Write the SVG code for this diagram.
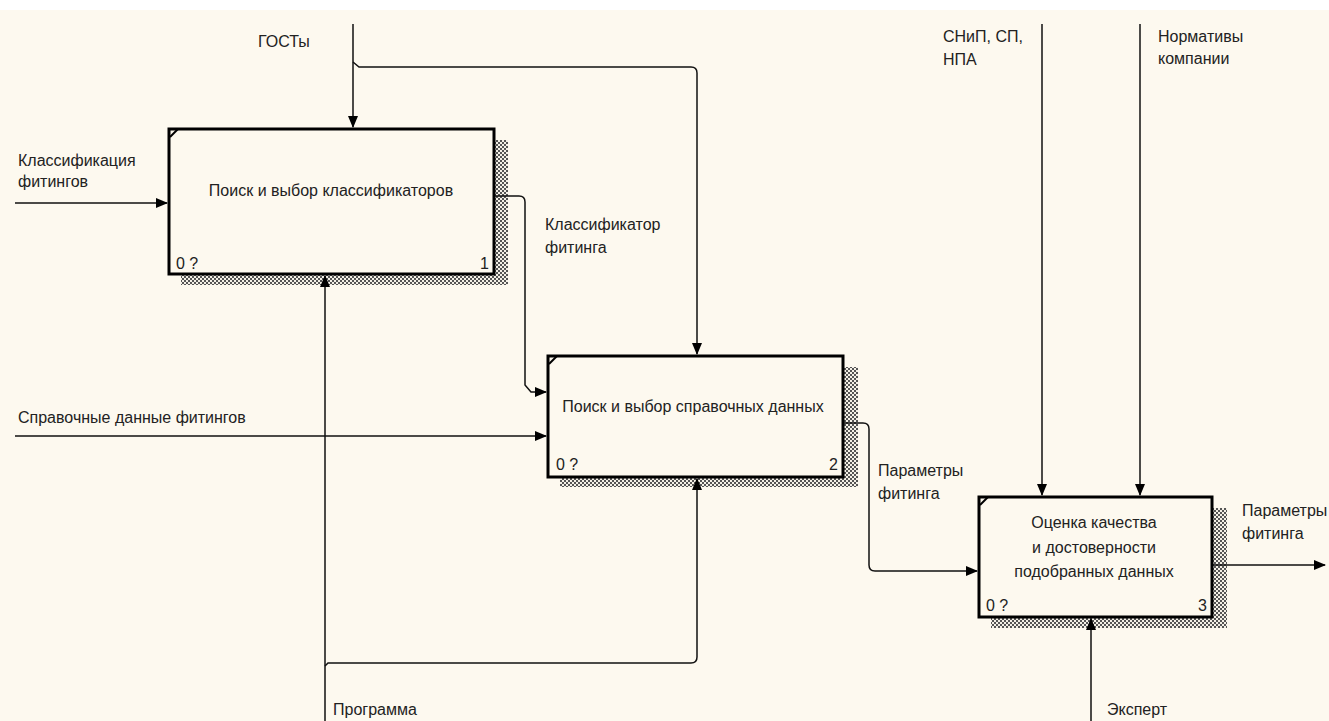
<svg xmlns="http://www.w3.org/2000/svg" width="1329" height="721" viewBox="0 0 1329 721">
<defs>
<pattern id="hatch" width="4" height="4" patternUnits="userSpaceOnUse">
<rect width="4" height="4" fill="#f4f0e6"/>
<rect x="0" y="0" width="2" height="2" fill="#555"/>
<rect x="2" y="2" width="2" height="2" fill="#555"/>
</pattern>
<marker id="arr" viewBox="0 0 12 10" refX="11" refY="5" markerWidth="12" markerHeight="10" markerUnits="userSpaceOnUse" orient="auto">
<path d="M0,0 L12,5 L0,10 Z" fill="#000"/>
</marker>
<style>
.box{fill:#fdf9ef;stroke:#000;stroke-width:3}
.shadow{fill:url(#hatch)}
.notch{stroke:#000;stroke-width:2;fill:none}
.t{font-family:"Liberation Sans",Arial,sans-serif;font-size:16px;fill:#222}
.c{text-anchor:middle}
.e{text-anchor:end}
.ln{fill:none;stroke:#111;stroke-width:1.5}
</style>
</defs>
<rect x="0" y="0" width="1329" height="721" fill="#fdf9ef"/>
<rect x="0" y="0" width="1329" height="10" fill="#ffffff"/>

<g id="node1">
<rect class="shadow" x="181" y="140" width="327" height="145"/>
<rect class="box" x="169" y="129" width="325" height="145"/>
<path class="notch" d="M170,137 L178,129"/>
<text class="t c" x="331" y="196">Поиск и выбор классификаторов</text>
<text class="t" x="176" y="269">0 ?</text>
<text class="t e" x="489" y="269">1</text>
</g>

<g id="node2">
<rect class="shadow" x="560" y="367" width="298" height="120"/>
<rect class="box" x="548" y="356" width="295" height="121"/>
<path class="notch" d="M549,364 L557,356"/>
<text class="t c" x="693" y="412">Поиск и выбор справочных данных</text>
<text class="t" x="556" y="470">0 ?</text>
<text class="t e" x="838" y="470">2</text>
</g>

<g id="node3">
<rect class="shadow" x="991" y="508" width="236" height="120"/>
<rect class="box" x="979" y="497" width="233" height="120"/>
<path class="notch" d="M980,505 L988,497"/>
<text class="t c" x="1094" y="528">Оценка качества</text>
<text class="t c" x="1094" y="553">и достоверности</text>
<text class="t c" x="1094" y="577">подобранных данных</text>
<text class="t" x="986" y="611">0 ?</text>
<text class="t e" x="1207" y="611">3</text>
</g>

<g id="connectors">
<path class="ln" d="M353,24 V127" marker-end="url(#arr)"/>
<path class="ln" d="M353,62 L359,67 H691 Q697,67 697,73 V354" marker-end="url(#arr)"/>
<path class="ln" d="M15,203 H167" marker-end="url(#arr)"/>
<path class="ln" d="M495,196 H519 Q525,196 525,202 V385 L531,392 H546" marker-end="url(#arr)"/>
<path class="ln" d="M15,436 H546" marker-end="url(#arr)"/>
<path class="ln" d="M844,423 H863 Q869,423 869,429 V565 Q869,571 875,571 H977" marker-end="url(#arr)"/>
<path class="ln" d="M1042,24 V495" marker-end="url(#arr)"/>
<path class="ln" d="M1140,24 V495" marker-end="url(#arr)"/>
<path class="ln" d="M1213,565 H1325" marker-end="url(#arr)"/>
<path class="ln" d="M325,721 V276" marker-end="url(#arr)"/>
<path class="ln" d="M325,666 L328,663 H691 Q697,663 697,657 V479" marker-end="url(#arr)"/>
<path class="ln" d="M1091,721 V619" marker-end="url(#arr)"/>
<text class="t" x="258" y="47">ГОСТы</text>
<text class="t" x="18" y="166">Классификация</text>
<text class="t" x="18" y="187">фитингов</text>
<text class="t" x="545" y="230">Классификатор</text>
<text class="t" x="545" y="253">фитинга</text>
<text class="t" x="18" y="423">Справочные данные фитингов</text>
<text class="t" x="878" y="476">Параметры</text>
<text class="t" x="878" y="499">фитинга</text>
<text class="t" x="943" y="42">СНиП, СП,</text>
<text class="t" x="943" y="65">НПА</text>
<text class="t" x="1158" y="42">Нормативы</text>
<text class="t" x="1158" y="64">компании</text>
<text class="t" x="1242" y="516">Параметры</text>
<text class="t" x="1242" y="539">фитинга</text>
<text class="t" x="333" y="715">Программа</text>
<text class="t" x="1107" y="715">Эксперт</text>
</g>
</svg>
